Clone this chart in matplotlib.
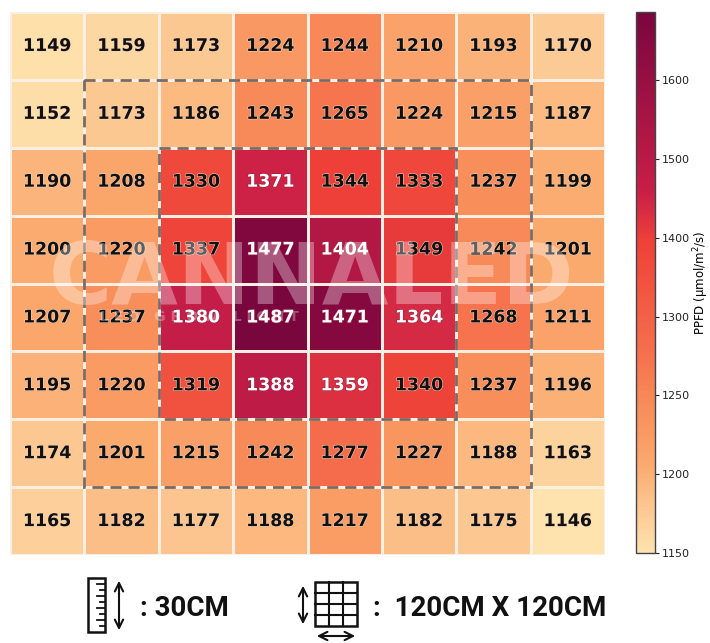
import numpy as np
import matplotlib
matplotlib.use('Agg')
import matplotlib.pyplot as plt
import matplotlib.colors as mcolors
import matplotlib.patheffects as pe
from matplotlib import font_manager
from matplotlib.patches import Rectangle, FancyArrowPatch

# PPFD grid, 8x8, top row first
ppfd = np.array([
    [1149, 1159, 1173, 1224, 1244, 1210, 1193, 1170],
    [1152, 1173, 1186, 1243, 1265, 1224, 1215, 1187],
    [1190, 1208, 1330, 1371, 1344, 1333, 1237, 1199],
    [1200, 1220, 1337, 1477, 1404, 1349, 1242, 1201],
    [1207, 1237, 1380, 1487, 1471, 1364, 1268, 1211],
    [1195, 1220, 1319, 1388, 1359, 1340, 1237, 1196],
    [1174, 1201, 1215, 1242, 1277, 1227, 1188, 1163],
    [1165, 1182, 1177, 1188, 1217, 1182, 1175, 1146],
])

cbar_ticks = [1150, 1200, 1250, 1300, 1400, 1500, 1600]
cbar_top = 1686

# colours
cmap_pos = [0.0, 0.085, 0.16, 0.28, 0.36, 0.58, 0.67, 1.0]
cmap_col = ['#fee3ae', '#fcc690', '#fbaa6e', '#f88a58', '#f6724e',
            '#ee4038', '#c81e48', '#7a063e']
cmap = mcolors.LinearSegmentedColormap.from_list('ppfd', list(zip(cmap_pos, cmap_col)))

# narrow bold font for the bottom legend, if one is installed
installed = {f.name for f in font_manager.fontManager.ttflist}
leg_family, leg_size = 'Roboto', 20
for fam, size in [('Liberation Sans Narrow', 24), ('DejaVu Sans Condensed', 21)]:
    if fam in installed:
        leg_family, leg_size = fam, size
        break

W, H = 710, 643
fig = plt.figure(figsize=(W / 100, H / 100), dpi=100)

ax = fig.add_axes([10 / W, 1 - 555 / H, 595 / W, 543 / H])
norm = mcolors.Normalize(vmin=ppfd.min(), vmax=ppfd.max())
ax.pcolormesh(ppfd, cmap=cmap, norm=norm, edgecolors='#fbeee2', linewidth=1.0)
ax.set_xlim(0, 8)
ax.set_ylim(8, 0)
ax.axis('off')

for i in range(8):
    for j in range(8):
        r, g, b, _ = cmap(norm(ppfd[i, j]))
        luma = 0.299 * r + 0.587 * g + 0.114 * b
        if luma < 0.42:
            tc, sc = 'white', '#9a2040'
        else:
            tc, sc = '#111111', '#f6d2b8'
        ax.text(j + 0.5, i + 0.5, str(ppfd[i, j]), ha='center', va='center',
                fontsize=12.5, fontweight='bold', color=tc,
                path_effects=[pe.withStroke(linewidth=0.8, foreground=sc)])

# dashed zones
ax.add_patch(Rectangle((1, 1), 6, 6, fill=False, ls=(0, (4, 2.5)), lw=2,
                       edgecolor='#6e5b56', alpha=0.9))
ax.add_patch(Rectangle((2, 2), 4, 4, fill=False, ls=(0, (4, 2.5)), lw=2,
                       edgecolor='#6e5b56', alpha=0.9))

# watermark
ax.text(4.05, 3.95, 'CANNALED', ha='center', va='center', fontsize=62,
        fontweight='bold', color='white', alpha=0.33)
ax.text(2.55, 4.5, 'L E D   G R O W   L I G H T', ha='center', va='center',
        fontsize=10, fontweight='bold', color='white', alpha=0.3)

# colorbar with uneven tick spacing
knots = cbar_ticks + [cbar_top]
fracs = list(np.linspace(0, 0.874, len(cbar_ticks))) + [1.0]
cb_norm = mcolors.FuncNorm((lambda v: np.interp(v, knots, fracs),
                            lambda f: np.interp(f, fracs, knots)),
                           vmin=cbar_ticks[0], vmax=cbar_top)
cax = fig.add_axes([636 / W, 1 - 553 / H, 19 / W, 541 / H])
sm = plt.cm.ScalarMappable(norm=cb_norm, cmap=cmap)
cb = fig.colorbar(sm, cax=cax, ticks=cbar_ticks)
cb.ax.tick_params(labelsize=8, length=3, width=0.8, colors='#222222', pad=2)
cb.outline.set_edgecolor('#444444')
cb.outline.set_linewidth(1)
cb.set_label('PPFD (μmol/m$^2$/s)', fontsize=8.5, labelpad=1)

# bottom legend, drawn in pixel-like figure coords
def fx(x):
    return x / W

def fy(y):
    return 1 - y / H

leg_font = dict(fontsize=leg_size, fontweight='bold', family=leg_family,
                color='#111111', va='center')

# ruler icon
fig.add_artist(Rectangle((fx(88), fy(632)), fx(17), 54 / H, fill=False,
                         lw=1.8, edgecolor='#111111', transform=fig.transFigure))
for k, y in enumerate(np.linspace(584, 626, 8)):
    ln = 8 if k % 2 == 0 else 5
    fig.add_artist(plt.Line2D([fx(105 - ln), fx(105)], [fy(y), fy(y)], lw=1.3,
                              color='#111111', transform=fig.transFigure))
fig.add_artist(FancyArrowPatch((fx(119), fy(578)), (fx(119), fy(633)),
                               arrowstyle='<->,head_length=6,head_width=3',
                               lw=1.5, color='#111111', transform=fig.transFigure))
fig.text(fx(140), fy(609), ': 30CM', **leg_font)

# grid icon
gx0, gx1, gy0, gy1 = 315, 357, 582, 626
fig.add_artist(Rectangle((fx(gx0), fy(gy1)), fx(gx1 - gx0), (gy1 - gy0) / H,
                         fill=False, lw=1.8, edgecolor='#111111',
                         transform=fig.transFigure))
for x in np.linspace(gx0, gx1, 4)[1:-1]:
    fig.add_artist(plt.Line2D([fx(x), fx(x)], [fy(gy0), fy(gy1)], lw=1.5,
                              color='#111111', transform=fig.transFigure))
for y in np.linspace(gy0, gy1, 5)[1:-1]:
    fig.add_artist(plt.Line2D([fx(gx0), fx(gx1)], [fy(y), fy(y)], lw=1.5,
                              color='#111111', transform=fig.transFigure))
fig.add_artist(FancyArrowPatch((fx(303), fy(583)), (fx(303), fy(627)),
                               arrowstyle='<->,head_length=6,head_width=3',
                               lw=1.5, color='#111111', transform=fig.transFigure))
fig.add_artist(FancyArrowPatch((fx(314), fy(636)), (fx(358), fy(636)),
                               arrowstyle='<->,head_length=6,head_width=3',
                               lw=1.5, color='#111111', transform=fig.transFigure))
fig.text(fx(373), fy(609), ':  120CM X 120CM', **leg_font)

fig.savefig('out.png', dpi=100, facecolor='white')
